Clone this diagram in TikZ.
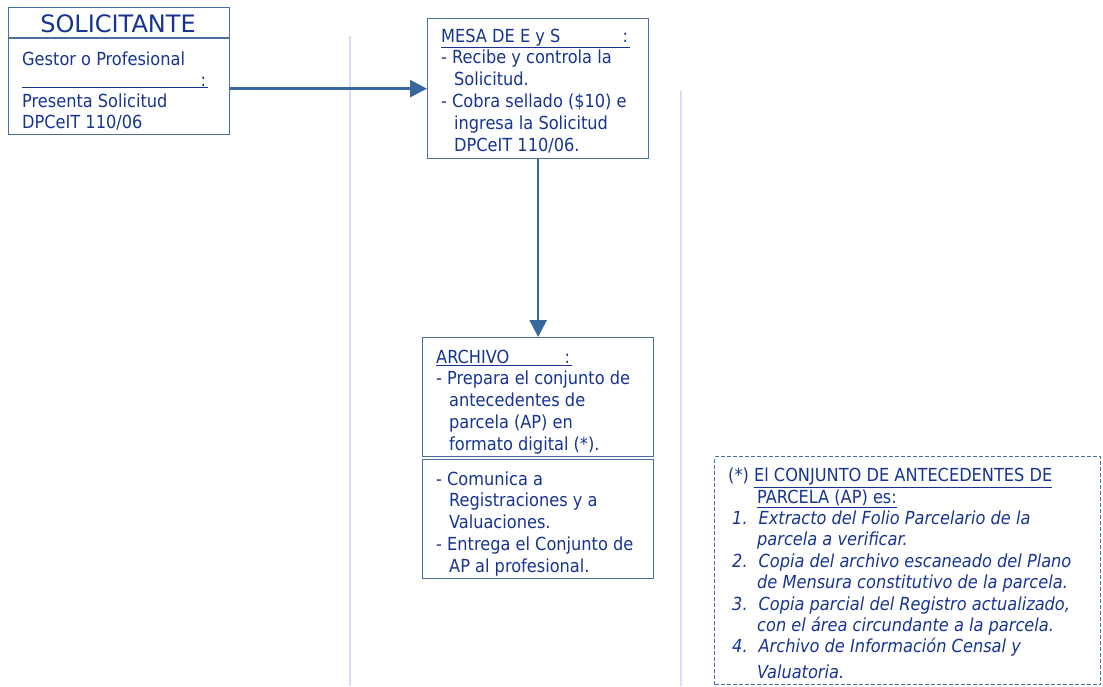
\documentclass[tikz,border=0pt]{standalone}
\usepackage{fontspec}
\setmainfont{DejaVu Sans Condensed}
\newfontfamily\titlefont{DejaVu Sans}
\usetikzlibrary{arrows.meta}
\definecolor{tc}{RGB}{22,52,145}
\definecolor{bc}{RGB}{74,112,160}
\definecolor{ac}{RGB}{56,104,158}
\definecolor{vl}{RGB}{218,218,246}
\newcommand\bodyfont{\fontsize{18}{21.8}\selectfont}
\newcommand\solfont{\fontsize{18}{21}\selectfont}
\tikzset{
  box/.style={draw=bc, line width=1.3pt, anchor=north west, inner sep=0pt},
  txt/.style={anchor=north west, inner sep=0pt, align=left, text=tc, font=\bodyfont},
  conn/.style={draw=ac, line width=2.6pt, -{Triangle[length=17pt,width=17pt]}},
  lane/.style={draw=vl, line width=1.6pt}
}
\newcommand\hi{\hspace*{13pt}}
\begin{document}
\begin{tikzpicture}[x=1pt,y=-1pt]
\useasboundingbox (0,0) rectangle (1103,686);
% lanes
\coordinate (l1a) at (350,36);
\coordinate (l1b) at (350,686);
\coordinate (l2a) at (681,91);
\coordinate (l2b) at (681,686);
\draw[lane] (l1a) -- (l1b);
\draw[lane] (l2a) -- (l2b);
% SOLICITANTE
\node[box, minimum width=221pt, minimum height=127pt] (sol) at (7.5,7) {};
\coordinate (solda) at (7.5,38);
\coordinate (soldb) at (228.5,38);
\draw[draw=bc, line width=1.3pt] (solda) -- (soldb);
\node[anchor=base, inner sep=0pt, text=tc, font=\titlefont\fontsize{24}{26}\selectfont] (soltitle) at (118,32) {SOLICITANTE};
\node[txt, font=\solfont] (soltxt) at (22,50.3) {\strut Gestor o Profesional\\
\underline{\makebox[186pt][r]{:\hspace*{2pt}}}\\
Presenta Solicitud\\
DPCeIT 110/06};
% MESA
\node[box, minimum width=221pt, minimum height=140pt] (mesa) at (427,18) {};
\node[txt] (mesatxt) at (441,26.6) {\strut\underline{\makebox[189pt][l]{MESA DE E y S\hfill:\hspace*{2pt}}}\\
- Recibe y controla la\\
\hi Solicitud.\\
- Cobra sellado (\$10) e\\
\hi ingresa la Solicitud\\
\hi DPCeIT 110/06.};
% ARCHIVO
\node[box, minimum width=231pt, minimum height=119pt] (arch) at (422,337) {};
\node[box, minimum width=231pt, minimum height=119pt] (arch2) at (422,459) {};
\node[txt] (archtxt) at (436,347.7) {\strut\underline{\makebox[136pt][l]{ARCHIVO\hfill:\hspace*{2pt}}}\\
- Prepara el conjunto de\\
\hi antecedentes de\\
\hi parcela (AP) en\\
\hi formato digital (*).};
\node[txt] (arch2txt) at (436,469.7) {\strut - Comunica a\\
\hi Registraciones y a\\
\hi Valuaciones.\\
- Entrega el Conjunto de\\
\hi AP al profesional.};
% footnote
\node[box, dashed, dash pattern=on 4pt off 2pt, line width=1pt, minimum width=386pt, minimum height=228pt] (note) at (714,456) {};
\node[txt, font=\fontsize{18}{21.4}\selectfont] (notetxt) at (728,466.6) {\strut (*) \underline{El CONJUNTO DE ANTECEDENTES DE}\\
\hspace*{29pt}\underline{PARCELA (AP) es:}\\
\itshape\hspace*{4pt}1.\hspace*{11pt}Extracto del Folio Parcelario de la\\
\itshape\hspace*{29pt}parcela a verificar.\\
\itshape\hspace*{4pt}2.\hspace*{11pt}Copia del archivo escaneado del Plano\\
\itshape\hspace*{29pt}de Mensura constitutivo de la parcela.\\
\itshape\hspace*{4pt}3.\hspace*{11pt}Copia parcial del Registro actualizado,\\
\itshape\hspace*{29pt}con el área circundante a la parcela.\\
\itshape\hspace*{4pt}4.\hspace*{11pt}Archivo de Información Censal y\\[4.6pt]
\itshape\hspace*{29pt}Valuatoria.};
% connectors
\draw[conn] (mesa.west -| sol.east) -- (mesa.west);
\draw[conn] (mesa.south) -- (arch.north);
\end{tikzpicture}
\end{document}
